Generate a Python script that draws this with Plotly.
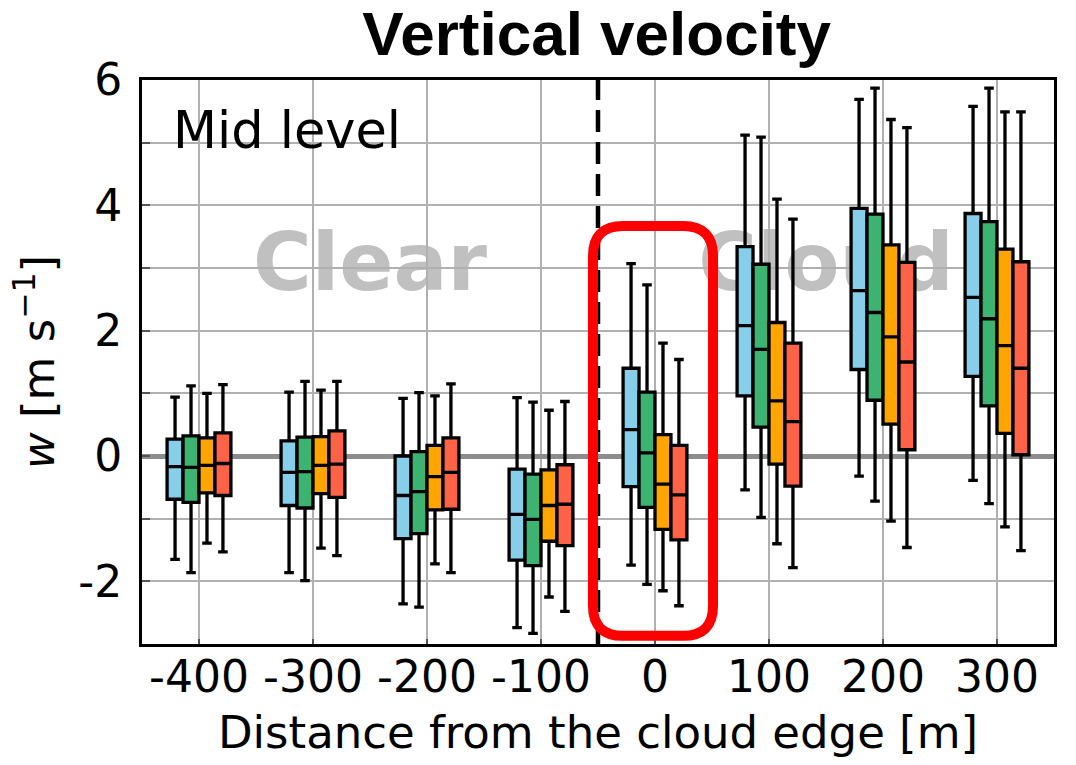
import plotly.graph_objects as go

# ---------------- data ----------------
categories = ["-400", "-300", "-200", "-100", "0", "100", "200", "300"]
series_names = ["S1", "S2", "S3", "S4"]

upper_whisker = [
    [0.94, 1.02, 0.92, 0.93, 3.07, 5.12, 5.69, 5.58],
    [1.12, 1.19, 1.01, 0.86, 2.73, 5.09, 5.87, 5.87],
    [1.00, 1.05, 0.96, 0.73, 1.80, 4.10, 5.37, 5.49],
    [1.14, 1.19, 1.15, 0.87, 1.54, 3.78, 5.24, 5.49],
]
q3_values = [
    [0.27, 0.24, 0.00, -0.21, 1.40, 3.34, 3.95, 3.87],
    [0.32, 0.30, 0.07, -0.29, 1.02, 3.06, 3.86, 3.74],
    [0.29, 0.31, 0.17, -0.22, 0.34, 2.13, 3.37, 3.30],
    [0.37, 0.40, 0.29, -0.14, 0.17, 1.80, 3.09, 3.10],
]
median_values = [
    [-0.17, -0.26, -0.63, -0.93, 0.42, 2.08, 2.64, 2.53],
    [-0.18, -0.25, -0.57, -1.01, 0.05, 1.70, 2.29, 2.19],
    [-0.15, -0.15, -0.33, -0.79, -0.45, 0.88, 1.90, 1.76],
    [-0.12, -0.13, -0.26, -0.77, -0.62, 0.55, 1.50, 1.40],
]
q1_values = [
    [-0.69, -0.79, -1.32, -1.66, -0.49, 0.96, 1.38, 1.27],
    [-0.74, -0.83, -1.24, -1.75, -0.82, 0.46, 0.89, 0.80],
    [-0.59, -0.60, -0.86, -1.36, -1.17, -0.13, 0.51, 0.36],
    [-0.63, -0.66, -0.85, -1.43, -1.34, -0.48, 0.10, 0.02],
]
lower_whisker = [
    [-1.65, -1.86, -2.36, -2.74, -1.74, -0.54, -0.32, -0.39],
    [-1.86, -1.99, -2.41, -2.83, -2.05, -0.98, -0.72, -0.76],
    [-1.39, -1.47, -1.72, -2.25, -2.15, -1.40, -1.04, -1.13],
    [-1.53, -1.59, -1.86, -2.48, -2.39, -1.78, -1.46, -1.51],
]
colors = ["#87CEEB", "#3CB371", "#FFA500", "#FF6347"]

y_tick_values = [-3, -2, -1, 0, 1, 2, 3, 4, 5, 6]
y_tick_labels = ["", "-2", "", "0", "", "2", "", "4", "", "6"]

# ---------------- figure ----------------
fig = go.Figure()
for i, name in enumerate(series_names):
    fig.add_trace(go.Box(
        name=name,
        x=categories,
        q1=q1_values[i],
        median=median_values[i],
        q3=q3_values[i],
        lowerfence=lower_whisker[i],
        upperfence=upper_whisker[i],
        fillcolor=colors[i],
        line=dict(color="black", width=3.3),
        whiskerwidth=0.6,
        boxpoints=False,
        showlegend=False,
        hoverinfo="skip",
    ))

tick_font = dict(family="DejaVu Sans", size=44, color="black")

fig.update_layout(
    width=1076, height=765,
    margin=dict(l=142, r=22, t=80, b=121),
    paper_bgcolor="white", plot_bgcolor="white",
    boxmode="group", boxgap=0.44, boxgroupgap=0,
    title=dict(text="<b>Vertical velocity</b>",
               font=dict(family="Liberation Sans, Arial", size=62, color="black"),
               x=0.5545, xanchor="center", y=0.957, yanchor="middle", yref="container"),
    xaxis=dict(
        type="category", categoryorder="array", categoryarray=categories,
        range=[-0.5, 7.5],
        showgrid=True, gridcolor="#b0b0b0", gridwidth=1.7,
        showline=True, linecolor="black", linewidth=3, mirror=True,
        ticks="inside", ticklen=5, tickcolor="#555555", tickwidth=1.5,
        tickfont=tick_font, ticklabelstandoff=-8,
        title=dict(text="Distance from the cloud edge [m]",
                   font=dict(family="DejaVu Sans", size=45, color="black"),
                   standoff=16),
        zeroline=False,
    ),
    yaxis=dict(
        range=[-3, 6],
        tickmode="array", tickvals=y_tick_values, ticktext=y_tick_labels,
        showgrid=True, gridcolor="#b0b0b0", gridwidth=1.7,
        showline=True, linecolor="black", linewidth=3, mirror=True,
        ticks="inside", ticklen=8, tickcolor="#555555", tickwidth=1.5,
        tickfont=tick_font, ticklabelstandoff=8,
        zeroline=True, zerolinecolor="#8c8c8c", zerolinewidth=5,
        title=dict(text="<i>w</i> [m s<sup>\u22121</sup>]",
                   font=dict(family="DejaVu Sans", size=45, color="black"),
                   standoff=10),
    ),
)

# background labels (below gridlines)
bg_font = dict(family="DejaVu Sans", size=80, color="#c0c0c0", weight="bold")
for label, xc in [("Clear", 1.5), ("Cloud", 5.5)]:
    fig.add_shape(type="rect", xref="x", yref="y",
                  x0=xc - 0.45, x1=xc + 0.45, y0=2.68, y1=3.68,
                  line=dict(width=0), fillcolor="rgba(0,0,0,0)", layer="below",
                  label=dict(text=label, font=bg_font, textposition="middle center"))

# dashed cloud-edge line
fig.add_shape(type="line", xref="x", yref="y", x0=3.5, x1=3.5, y0=-3, y1=6,
              line=dict(color="black", width=4.5, dash="22px,10px"), layer="above")

# red rounded rectangle
x0, x1, y0, y1 = 3.456, 4.509, -2.87, 3.67
rx, ry = 30 / 114, 30 / 62.7
path = (f"M {x0+rx},{y1} L {x1-rx},{y1} Q {x1},{y1} {x1},{y1-ry} "
        f"L {x1},{y0+ry} Q {x1},{y0} {x1-rx},{y0} L {x0+rx},{y0} "
        f"Q {x0},{y0} {x0},{y0+ry} L {x0},{y1-ry} Q {x0},{y1} {x0+rx},{y1} Z")
fig.add_shape(type="path", xref="x", yref="y", path=path,
              line=dict(color="#ff0000", width=10), fillcolor="rgba(0,0,0,0)", layer="above")

# "Mid level" label
fig.add_annotation(text="Mid level", xref="paper", yref="paper",
                   x=0.032, y=0.91, xanchor="left", yanchor="middle",
                   showarrow=False,
                   font=dict(family="DejaVu Sans", size=51, color="black"))

fig.write_html("out.html")
